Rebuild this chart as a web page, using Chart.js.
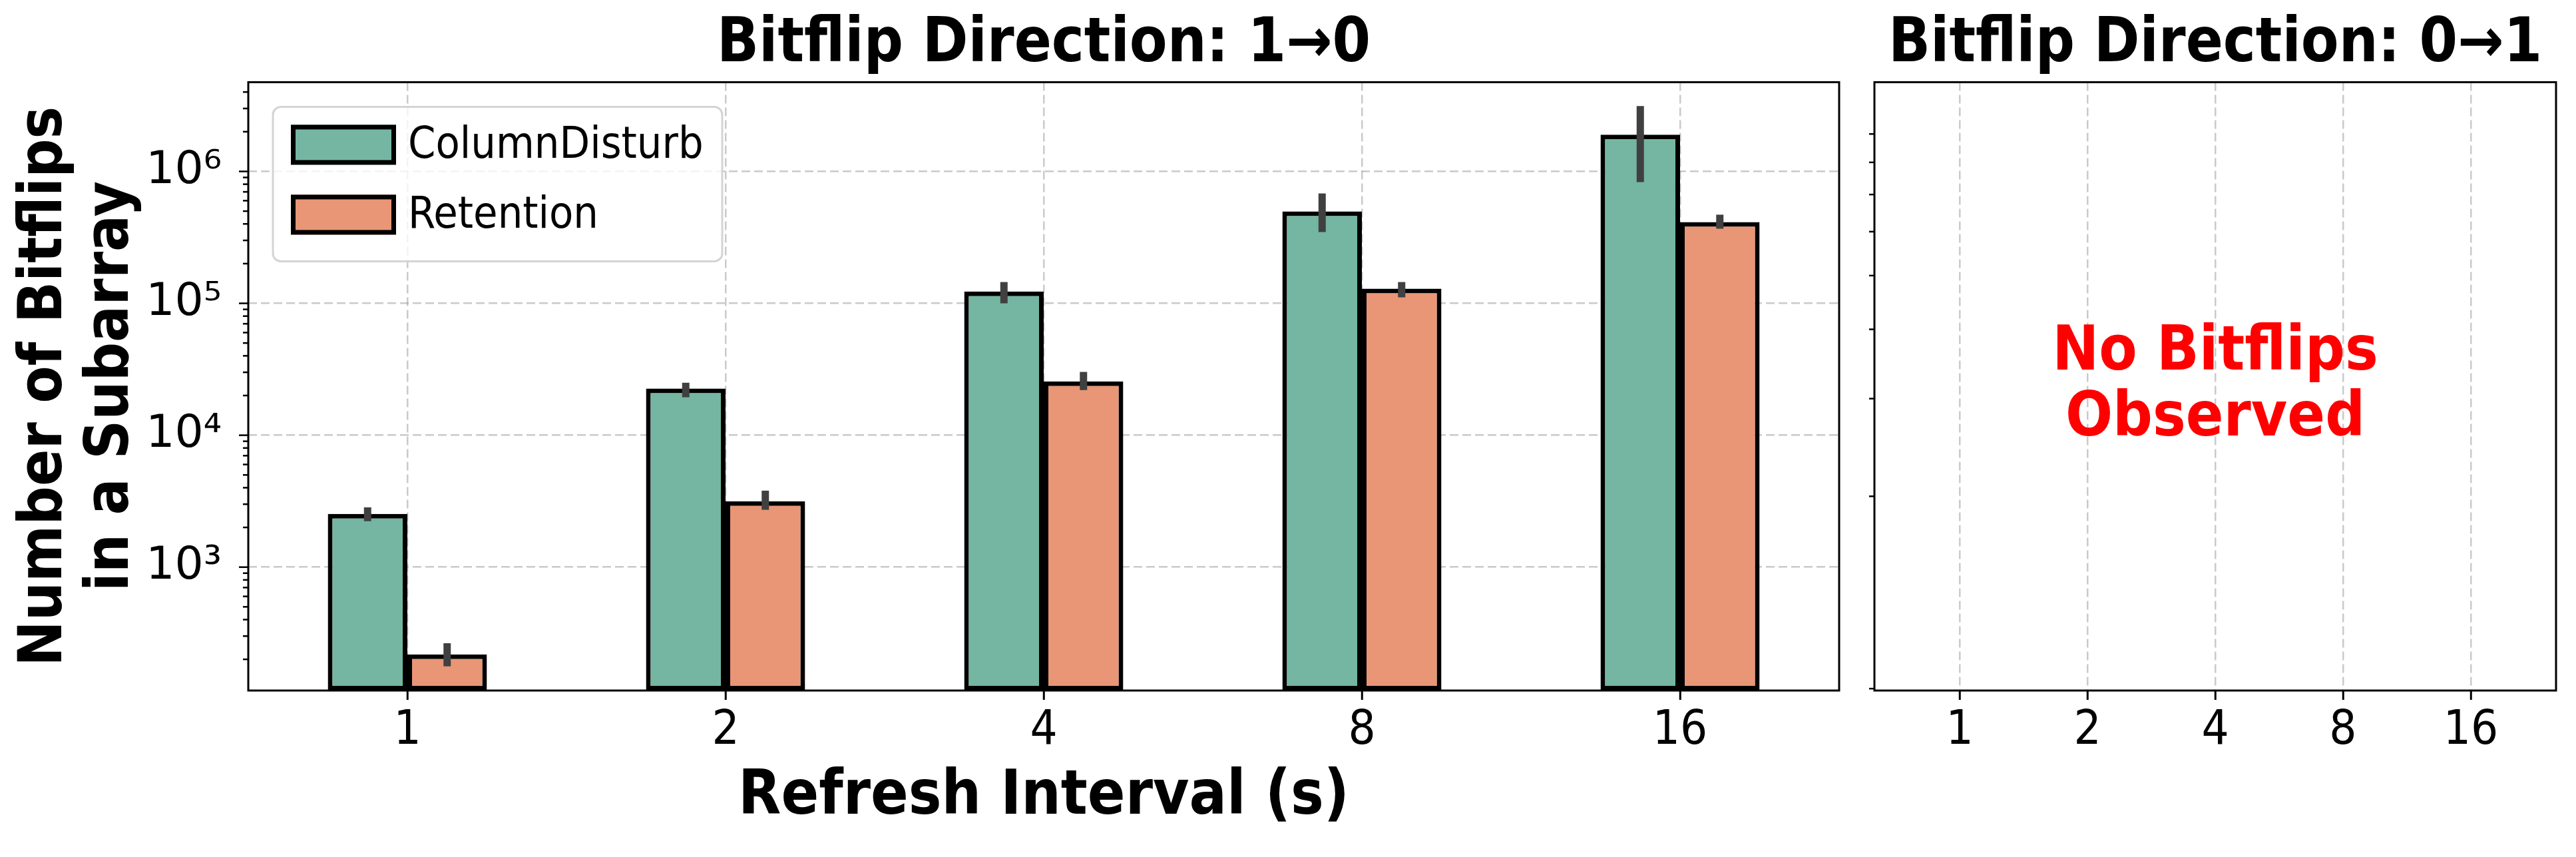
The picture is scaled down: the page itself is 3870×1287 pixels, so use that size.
<!DOCTYPE html>
<html>
<head>
<meta charset="utf-8">
<script src="https://cdn.jsdelivr.net/npm/chart.js@4.4.1/dist/chart.umd.min.js"></script>
<style>
  html, body { margin: 0; padding: 0; background: #fff; }
  body { width: 3870px; height: 1287px; position: relative; overflow: hidden; }
  canvas { position: absolute; top: 0; }
  #left { left: 0; }
  #right { left: 2790px; }
</style>
</head>
<body>
<canvas id="left" width="2790" height="1287"></canvas>
<canvas id="right" width="1080" height="1287"></canvas>
<script>
// Data
const intervals = ['1', '2', '4', '8', '16'];
const colDisturb = [2530, 22600, 123000, 498000, 1900000];
const colDisturbLo = [2230, 19400, 100000, 347000, 830000];
const colDisturbHi = [2840, 25000, 145000, 681000, 3130000];
const retention = [218, 3160, 25600, 129000, 413000];
const retentionLo = [177, 2720, 22000, 111000, 368000];
const retentionHi = [265, 3800, 30200, 145000, 470000];

// Axis ranges and ticks
const leftYMin = 116;
const leftYMax = 4.75e6;
const rightYMin = 0.893;
const rightYMax = 11.16;
const rightYTicks = [0.9, 2, 3, 4, 5, 6, 7, 8, 9];

const CD_COLOR = '#74b6a1';
const RET_COLOR = '#e89675';
const GRID = 'rgba(150,150,150,0.5)';
const FONT_COND = "'DejaVu Sans Condensed', 'Liberation Sans Narrow', sans-serif";
const FONT_REG = "'DejaVu Sans', sans-serif";

const SUP = { '0': '\u2070', '1': '\u00b9', '2': '\u00b2', '3': '\u00b3', '4': '\u2074',
  '5': '\u2075', '6': '\u2076', '7': '\u2077', '8': '\u2078', '9': '\u2079' };

function isPow10(v) {
  const e = Math.log10(v);
  return Math.abs(e - Math.round(e)) < 1e-9;
}

// every 1..9 x 10^k inside the range
function logTicks(min, max) {
  const out = [];
  for (let e = Math.floor(Math.log10(min)); e <= Math.ceil(Math.log10(max)); e++) {
    for (let k = 1; k <= 9; k++) {
      const v = k * Math.pow(10, e);
      if (v >= min && v <= max) out.push(v);
    }
  }
  return out;
}

// Frame round the plot area
const spinePlugin = {
  id: 'spines',
  afterDraw(chart) {
    const { ctx, chartArea: a } = chart;
    ctx.save();
    ctx.strokeStyle = '#000';
    ctx.lineWidth = 3;
    ctx.strokeRect(a.left, a.top, a.right - a.left, a.bottom - a.top);
    ctx.restore();
  }
};

// Log tick marks on the y axis (long for decades, short otherwise)
const yTickMarks = {
  id: 'yTickMarks',
  afterDraw(chart, args, opts) {
    const { ctx, chartArea: a } = chart;
    const y = chart.scales.y;
    ctx.save();
    ctx.strokeStyle = '#000';
    ctx.lineWidth = 2.5;
    y.ticks.forEach(t => {
      const len = (opts.majorOnly !== false && isPow10(t.value)) ? 14 : 8;
      const py = y.getPixelForValue(t.value);
      ctx.beginPath();
      ctx.moveTo(a.left - len, py);
      ctx.lineTo(a.left, py);
      ctx.stroke();
    });
    ctx.restore();
  }
};

// Error bars from the lo/hi arrays
const errorBars = {
  id: 'errorBars',
  afterDatasetsDraw(chart) {
    const { ctx } = chart;
    const y = chart.scales.y;
    const ranges = [[colDisturbLo, colDisturbHi], [retentionLo, retentionHi]];
    ctx.save();
    ctx.strokeStyle = '#404040';
    ctx.lineWidth = 11;
    ranges.forEach((r, i) => {
      chart.getDatasetMeta(i).data.forEach((bar, j) => {
        ctx.beginPath();
        ctx.moveTo(bar.x, y.getPixelForValue(r[0][j]));
        ctx.lineTo(bar.x, y.getPixelForValue(r[1][j]));
        ctx.stroke();
      });
    });
    ctx.restore();
  }
};

// Legend box in the upper left of the plot
const insideLegend = {
  id: 'insideLegend',
  afterDraw(chart) {
    const { ctx, chartArea: a } = chart;
    const bx = a.left + 37, by = a.top + 37, bw = 675, bh = 232;
    ctx.save();
    ctx.fillStyle = 'rgba(255,255,255,0.8)';
    ctx.strokeStyle = '#d4d4d4';
    ctx.lineWidth = 3;
    ctx.beginPath();
    ctx.roundRect(bx, by, bw, bh, 12);
    ctx.fill();
    ctx.stroke();
    chart.data.datasets.forEach((ds, i) => {
      const sy = by + 27 + i * 105;
      ctx.fillStyle = ds.backgroundColor;
      ctx.fillRect(bx + 27, sy, 158, 60);
      ctx.strokeStyle = '#000';
      ctx.lineWidth = 7;
      ctx.strokeRect(bx + 30.5, sy + 3.5, 151, 53);
      ctx.fillStyle = '#000';
      ctx.font = `66px ${FONT_COND}`;
      ctx.textBaseline = 'middle';
      ctx.fillText(ds.label, bx + 203, sy + 32);
    });
    ctx.restore();
  }
};

// Note in the empty panel
const noFlipsNote = {
  id: 'noFlipsNote',
  afterDraw(chart) {
    const { ctx, chartArea: a } = chart;
    const cx = (a.left + a.right) / 2;
    const base = a.top + (a.bottom - a.top) * 0.472;
    ctx.save();
    ctx.fillStyle = '#ff0000';
    ctx.font = `bold 93px ${FONT_COND}`;
    ctx.textAlign = 'center';
    ctx.textBaseline = 'alphabetic';
    ctx.fillText('No Bitflips', cx, base);
    ctx.fillText('Observed', cx, base + 99);
    ctx.restore();
  }
};

function xGrid() {
  return {
    offset: false,
    color: GRID,
    lineWidth: 2.5,
    drawTicks: true,
    tickLength: 14,
    tickColor: '#000',
    tickWidth: 3
  };
}

function titleOpts(text) {
  return {
    display: true,
    text: text,
    color: '#000',
    fullSize: false,
    font: { family: FONT_COND, size: 92, weight: 'bold', lineHeight: 1.2 },
    padding: { top: 13, bottom: 0 }
  };
}

// Left panel: 1 -> 0
new Chart(document.getElementById('left'), {
  type: 'bar',
  data: {
    labels: intervals,
    datasets: [
      { label: 'ColumnDisturb', data: colDisturb, backgroundColor: CD_COLOR,
        borderColor: '#000', borderWidth: 7, borderSkipped: false },
      { label: 'Retention', data: retention, backgroundColor: RET_COLOR,
        borderColor: '#000', borderWidth: 7, borderSkipped: false }
    ]
  },
  options: {
    responsive: false,
    animation: false,
    devicePixelRatio: 1,
    categoryPercentage: 0.5,
    barPercentage: 1.0,
    layout: { padding: { left: 0, right: 27, top: 0, bottom: 0 } },
    plugins: {
      legend: { display: false },
      tooltip: { enabled: false },
      title: titleOpts('Bitflip Direction: 1\u21920')
    },
    scales: {
      x: {
        z: 1,
        offset: true,
        grid: xGrid(),
        border: { display: false, dash: [13, 6] },
        ticks: { color: '#000', padding: 4, font: { family: FONT_COND, size: 72 } },
        title: {
          display: true, text: 'Refresh Interval (s)', color: '#000',
          font: { family: FONT_COND, size: 93, weight: 'bold', lineHeight: 1.1 },
          padding: { top: 0, bottom: 38 }
        },
        afterFit: s => { s.height = 250; }
      },
      y: {
        z: 1,
        type: 'logarithmic',
        min: leftYMin,
        max: leftYMax,
        afterBuildTicks: s => { s.ticks = logTicks(leftYMin, leftYMax).map(v => ({ value: v })); },
        grid: {
          drawTicks: false,
          lineWidth: 2.5,
          color: c => (c.tick && isPow10(c.tick.value)) ? GRID : 'rgba(0,0,0,0)'
        },
        border: { display: false, dash: [13, 6] },
        ticks: {
          autoSkip: false,
          padding: 40,
          color: '#000',
          font: { family: FONT_REG, size: 68 },
          callback: v => isPow10(v) ? '10' + SUP[String(Math.round(Math.log10(v)))] : ''
        },
        title: {
          display: true, text: ['Number of Bitflips', 'in a Subarray'], color: '#000',
          font: { family: FONT_COND, size: 91, weight: 'bold', lineHeight: 1.1 },
          padding: { top: 18, bottom: 0 }
        },
        afterFit: s => { s.width = 373; }
      }
    }
  },
  plugins: [errorBars, spinePlugin, yTickMarks, insideLegend]
});

// Right panel: 0 -> 1, nothing to show
new Chart(document.getElementById('right'), {
  type: 'line',
  data: {
    labels: intervals,
    datasets: [
      { label: 'ColumnDisturb', data: [], borderColor: CD_COLOR },
      { label: 'Retention', data: [], borderColor: RET_COLOR }
    ]
  },
  options: {
    responsive: false,
    animation: false,
    devicePixelRatio: 1,
    layout: { padding: { left: 0, right: 30, top: 0, bottom: 0 } },
    plugins: {
      legend: { display: false },
      tooltip: { enabled: false },
      title: titleOpts('Bitflip Direction: 0\u21921'),
      yTickMarks: { majorOnly: false }
    },
    scales: {
      x: {
        z: 1,
        type: 'linear',
        offset: false,
        min: -0.667,
        max: 4.667,
        afterBuildTicks: s => { s.ticks = intervals.map((_, i) => ({ value: i })); },
        grid: xGrid(),
        border: { display: false, dash: [13, 6] },
        ticks: {
          color: '#000', padding: 4, font: { family: FONT_COND, size: 72 },
          callback: v => intervals[v]
        },
        afterFit: s => { s.height = 250; }
      },
      y: {
        type: 'logarithmic',
        min: rightYMin,
        max: rightYMax,
        afterBuildTicks: s => { s.ticks = rightYTicks.map(v => ({ value: v })); },
        grid: { display: false },
        border: { display: false },
        ticks: { display: false },
        afterFit: s => { s.width = 26; }
      }
    }
  },
  plugins: [spinePlugin, yTickMarks, noFlipsNote]
});
</script>
</body>
</html>
